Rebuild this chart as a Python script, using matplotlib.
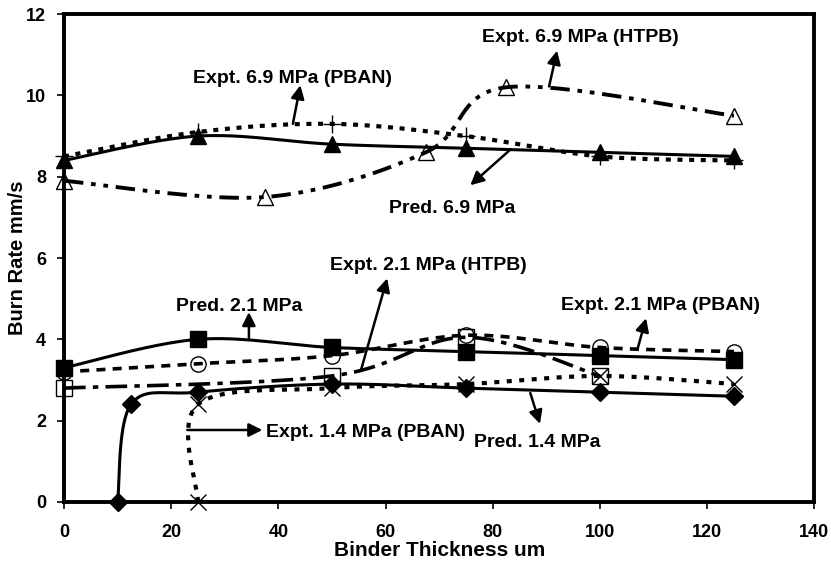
import numpy as np
import matplotlib.pyplot as plt

plt.rcParams['font.family'] = ['Liberation Sans', 'DejaVu Sans']
plt.rcParams['font.weight'] = 'bold'

# ===== data =====
x_pred = [0, 25, 50, 75, 100, 125]
pred_69 = [8.4, 9.0, 8.8, 8.7, 8.6, 8.5]
pred_21 = [3.3, 4.0, 3.8, 3.7, 3.6, 3.5]

x_pred_14 = [10, 12.5, 25, 50, 75, 100, 125]
pred_14 = [0.0, 2.4, 2.7, 2.9, 2.8, 2.7, 2.6]

x_e69_pban = [0, 25, 50, 75, 100, 125]
e69_pban = [8.5, 9.1, 9.3, 9.0, 8.5, 8.4]

x_e69_htpb = [0, 37.5, 67.5, 82.5, 125]
e69_htpb = [7.9, 7.5, 8.6, 10.2, 9.5]

x_e21_pban = [0, 25, 50, 75, 100, 125]
e21_pban = [3.2, 3.4, 3.6, 4.1, 3.8, 3.7]

x_e21_htpb = [0, 50, 75, 100]
e21_htpb = [2.8, 3.1, 4.05, 3.1]

x_e14_pban = [25, 25, 50, 75, 100, 125]
e14_pban = [0.0, 2.4, 2.8, 2.9, 3.1, 2.9]


def smooth(xs, ys, n=40):
    # Excel-like smoothed line (Bezier through the points)
    p = np.column_stack([xs, ys]).astype(float)
    pts = [p[0]]
    for i in range(len(p) - 1):
        p0 = p[i - 1] if i > 0 else p[i]
        p1, p2 = p[i], p[i + 1]
        p3 = p[i + 2] if i + 2 < len(p) else p[i + 1]
        c1 = p1 + (p2 - p0) / 6
        c2 = p2 - (p3 - p1) / 6
        t = np.linspace(0, 1, n)[1:, None]
        seg = (1 - t) ** 3 * p1 + 3 * (1 - t) ** 2 * t * c1 + 3 * (1 - t) * t ** 2 * c2 + t ** 3 * p2
        pts.extend(seg)
    pts = np.array(pts)
    return pts[:, 0], pts[:, 1]


fig = plt.figure(figsize=(8.31, 5.64), dpi=100)
ax = fig.add_axes([0.077, 0.110, 0.903, 0.865])

series = [
    (x_pred, pred_69, '-', 2.2, '^', 'k', 12),
    (x_e69_pban, e69_pban, (0, (1.2, 1.6)), 3.0, '+', 'k', 13),
    (x_e69_htpb, e69_htpb, (0, (5, 2, 1.2, 2, 1.2, 2)), 2.8, '^', 'none', 12),
    (x_pred, pred_21, '-', 2.2, 's', 'k', 12),
    (x_e21_pban, e21_pban, (0, (2.5, 2)), 2.6, 'o', 'none', 11),
    (x_e21_htpb, e21_htpb, (0, (6, 2, 1.5, 2)), 2.6, 's', 'none', 11),
    (x_pred_14, pred_14, '-', 2.2, 'D', 'k', 9.5),
    (x_e14_pban, e14_pban, (0, (1.2, 1.8)), 3.0, 'x', 'k', 11),
]
for xs, ys, ls, lw, mk, fc, ms in series:
    sx, sy = smooth(xs, ys)
    ax.plot(sx, sy, color='k', linestyle=ls, linewidth=lw, zorder=2)
    ax.plot(xs, ys, linestyle='none', marker=mk, markersize=ms, markerfacecolor=fc,
            markeredgecolor='k', markeredgewidth=1.0, zorder=3, clip_on=False)

# ===== annotations =====
arr = dict(arrowstyle='-|>', color='k', lw=1.8, mutation_scale=20, shrinkA=0, shrinkB=0)
notes = [
    ('Expt. 6.9 MPa (PBAN)', (24.1, 10.42), (42.7, 9.3), (44.1, 10.25)),
    ('Expt. 6.9 MPa (HTPB)', (78.0, 11.42), (90.5, 10.22), (92.0, 11.1)),
    ('Pred. 6.9 MPa', (60.7, 7.22), (83.3, 8.67), (75.8, 7.79)),
    ('Expt. 2.1 MPa (HTPB)', (49.7, 5.82), (55.4, 3.24), (60.3, 5.5)),
    ('Pred. 2.1 MPa', (20.9, 4.82), (34.5, 4.03), (34.5, 4.67)),
    ('Expt. 2.1 MPa (PBAN)', (92.8, 4.84), (107.0, 3.76), (108.6, 4.52)),
    ('Expt. 1.4 MPa (PBAN)', (37.7, 1.72), (23.0, 1.77), (37.0, 1.77)),
    ('Pred. 1.4 MPa', (76.5, 1.47), (87.0, 2.68), (88.8, 1.92)),
]
for txt, tpos, tail, head in notes:
    ax.text(tpos[0], tpos[1], txt, fontsize=14, fontweight='bold', va='center', ha='left', zorder=5)
    ax.annotate('', xy=head, xytext=tail, arrowprops=arr, zorder=4)

ax.set_xlim(0, 140)
ax.set_ylim(0, 12)
ax.set_xticks(range(0, 141, 20))
ax.set_yticks(range(0, 13, 2))
ax.tick_params(labelsize=13, width=1.2, length=5, direction='out')
ax.tick_params(axis='x', pad=11)
ax.tick_params(axis='y', pad=8)
for lab in ax.get_xticklabels() + ax.get_yticklabels():
    lab.set_fontweight('bold')
for s in ax.spines.values():
    s.set_linewidth(2.8)
ax.set_xlabel('Binder Thickness um', fontsize=15, fontweight='bold', labelpad=0)
ax.set_ylabel('Burn Rate mm/s', fontsize=14.5, fontweight='bold', labelpad=-1)

fig.savefig('out.png', dpi=100)
